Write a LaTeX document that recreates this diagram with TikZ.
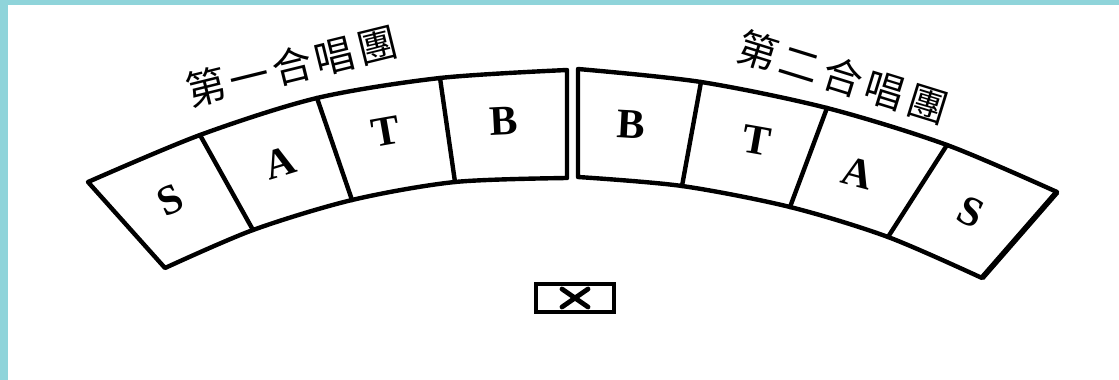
\documentclass[tikz,border=0pt]{standalone}
\usepackage{fontspec}
\setmainfont{Liberation Serif}
\newfontfamily\cjk{Noto Sans CJK TC}
\definecolor{framecyan}{RGB}{143,212,218}
\begin{document}
\begin{tikzpicture}[x=1pt,y=-1pt,
  band/.style={line width=4.4pt,line join=round},
  divider/.style={line width=4.4pt,line cap=round},
  voice/.style={font=\bfseries\fontsize{42}{42}\selectfont,inner sep=0pt},
  hanzi/.style={font=\cjk\fontsize{40}{40}\selectfont,inner sep=0pt}]
\useasboundingbox (0,0) rectangle (1119,380);
\fill[framecyan] (0,0) rectangle (1119,380);
\fill[white] (8,5) rectangle (1119,380);
% left choir corners (top row t, bottom row b)
\coordinate (lt0) at (88,182);  \coordinate (lb0) at (165,268);
\coordinate (lt1) at (200,135); \coordinate (lb1) at (253,230);
\coordinate (lt2) at (317,98);  \coordinate (lb2) at (352,200);
\coordinate (lt3) at (440,78);  \coordinate (lb3) at (455,182);
\coordinate (lt4) at (567,70);  \coordinate (lb4) at (567,178);
% right choir corners
\coordinate (rt0) at (578,69);   \coordinate (rb0) at (578,177);
\coordinate (rt1) at (701,82);   \coordinate (rb1) at (682,186);
\coordinate (rt2) at (827,108);  \coordinate (rb2) at (790,207);
\coordinate (rt3) at (947,145);  \coordinate (rb3) at (888,237);
\coordinate (rt4) at (1057,192); \coordinate (rb4) at (982,278);
% outlines
\draw[band] plot[smooth] coordinates {(lt0) (lt1) (lt2) (lt3) (lt4)}
  -- (lb4) -- plot[smooth] coordinates {(lb4) (lb3) (lb2) (lb1) (lb0)} -- cycle;
\draw[band] plot[smooth] coordinates {(rt0) (rt1) (rt2) (rt3) (rt4)}
  -- (rb4) -- plot[smooth] coordinates {(rb4) (rb3) (rb2) (rb1) (rb0)} -- cycle;
\draw[band,line width=5.6pt] (rt4) -- (rb4);
% dividers
\draw[divider] (lt1) -- (lb1);
\draw[divider] (lt2) -- (lb2);
\draw[divider] (lt3) -- (lb3);
\draw[divider] (rt1) -- (rb1);
\draw[divider] (rt2) -- (rb2);
\draw[divider] (rt3) -- (rb3);
% voice letters
\node[voice,rotate=25] (s1) at (170,200) {S};
\node[voice,rotate=17] (a1) at (280,163) {A};
\node[voice,rotate=10] (t1) at (386,132) {T};
\node[voice,rotate=3]  (b1) at (504,121) {B};
\node[voice,rotate=-3] (b2) at (631,125) {B};
\node[voice,rotate=-10] (t2) at (757,140) {T};
\node[voice,rotate=-15] (a2) at (858,173) {A};
\node[voice,rotate=-25] (s2) at (971,212) {S};
% choir labels
\node[hanzi,rotate=13.8] (choir1) at (292,66) {第\kern4pt 一\kern4pt 合\kern4pt 唱\kern4pt 團};
\node[hanzi,rotate=-17.2] (choir2) at (843,77) {第\kern4.5pt 二\kern4.5pt 合\kern4.5pt 唱\kern4.5pt 團};
% conductor
\node[draw,line width=3.6pt,minimum width=78pt,minimum height=28pt,inner sep=0pt] (cond) at (575,298) {};
\draw[line width=4.8pt,line cap=round] (cond.center) ++(-13,-9) -- ++(26,18);
\draw[line width=4.8pt,line cap=round] (cond.center) ++(-13,9) -- ++(26,-18);
\end{tikzpicture}
\end{document}
